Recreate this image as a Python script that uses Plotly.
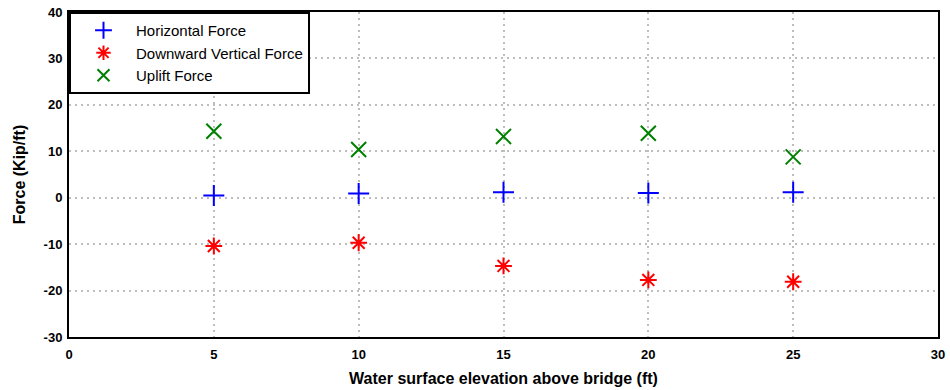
import plotly.graph_objects as go

elevation = [5, 10, 15, 20, 25]
horizontal_force = [0.5, 0.9, 1.2, 1.0, 1.2]
downward_vertical_force = [-10.4, -9.7, -14.7, -17.7, -18.1]
uplift_force = [14.3, 10.4, 13.2, 13.9, 8.8]

x_ticks = [0, 5, 10, 15, 20, 25, 30]
y_ticks = [-30, -20, -10, 0, 10, 20, 30, 40]
x_tick_labels = ["<b>%d</b>" % v for v in x_ticks]
y_tick_labels = ["<b>%d</b>" % v for v in y_ticks]

FONT = "Liberation Sans, Arial, sans-serif"

fig = go.Figure()
fig.add_trace(go.Scatter(x=elevation, y=horizontal_force, mode="markers", name="Horizontal Force",
                         marker=dict(symbol="cross-thin-open", size=15, color="#0000ff",
                                     line=dict(width=2, color="#0000ff"))))
fig.add_trace(go.Scatter(x=elevation, y=downward_vertical_force, mode="markers", name="Downward Vertical Force",
                         marker=dict(symbol="asterisk-open", size=14, color="#ff0000",
                                     line=dict(width=2, color="#ff0000"))))
fig.add_trace(go.Scatter(x=elevation, y=uplift_force, mode="markers", name="Uplift Force",
                         marker=dict(symbol="x-thin-open", size=15, color="#008000",
                                     line=dict(width=2, color="#008000"))))

axis_common = dict(showline=True, linecolor="black", linewidth=2, mirror=True,
                   showgrid=True, gridcolor="#bdbdbd", griddash="2px,4px", gridwidth=1.5,
                   zeroline=False, ticks="", automargin=False, ticklabeloverflow="allow",
                   tickfont=dict(family=FONT, size=13, color="black"))

fig.update_xaxes(range=[0, 30], tickvals=x_ticks, ticktext=x_tick_labels, ticklabelstandoff=4,
                 title=dict(text="<b>Water surface elevation above bridge (ft)</b>", standoff=12,
                            font=dict(family=FONT, size=16, color="black")),
                 **axis_common)
fig.update_yaxes(range=[-30, 40], tickvals=y_ticks, ticktext=y_tick_labels, ticklabelstandoff=2,
                 title=dict(text="<b>Force (Kip/ft)</b>", standoff=14,
                            font=dict(family=FONT, size=16, color="black")),
                 **axis_common)

fig.update_layout(width=950, height=390, margin=dict(l=69, r=12, t=12, b=53, autoexpand=False),
                  plot_bgcolor="white", paper_bgcolor="white",
                  legend=dict(x=0, y=1, xanchor="left", yanchor="top", bgcolor="white",
                              bordercolor="black", borderwidth=2, tracegroupgap=0,
                              itemsizing="constant", itemwidth=55,
                              font=dict(family=FONT, size=15, color="black")),
                  showlegend=True)

fig.write_html("out.html", config={"displayModeBar": False},
               post_script="document.body.style.margin='0';")
